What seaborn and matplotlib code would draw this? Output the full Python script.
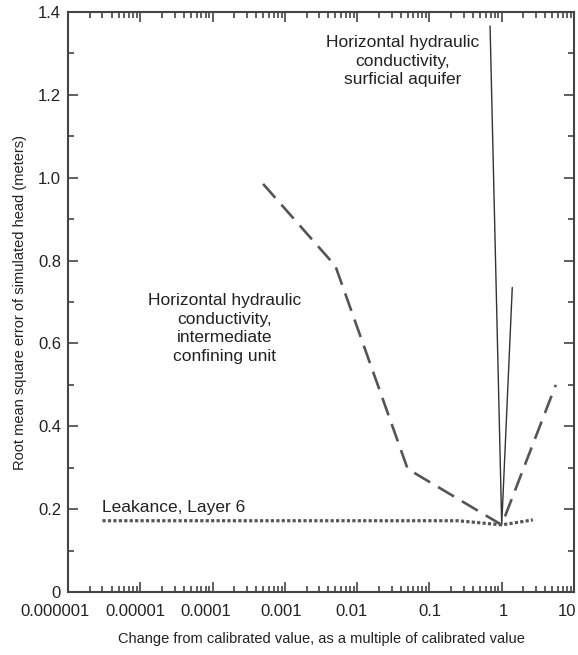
import numpy as np
import seaborn as sns
import pandas as pd
import matplotlib.pyplot as plt
import matplotlib.transforms as mtransforms
from matplotlib.ticker import LogLocator, FixedLocator, MultipleLocator, NullFormatter

# values
surf_x = [0.69, 1.0, 1.4]
surf_y = [1.366, 0.162, 0.735]

conf_x = [0.0005, 0.005, 0.05, 1.0, 5.6]
conf_y = [0.985, 0.787, 0.297, 0.162, 0.50]

leak_x = [0.000003, 0.25, 1.0, 2.7]
leak_y = [0.172, 0.172, 0.162, 0.174]

xticks = [1e-6, 1e-5, 1e-4, 1e-3, 1e-2, 1e-1, 1, 10]
xlabels = ['0.000001', '0.00001', '0.0001', '0.001', '0.01', '0.1', '1', '10']
yticks = [0, 0.2, 0.4, 0.6, 0.8, 1.0, 1.2, 1.4]
ylabels = ['0', '0.2', '0.4', '0.6', '0.8', '1.0', '1.2', '1.4']

sns.set_style('ticks')
plt.rcParams['font.family'] = ['Liberation Sans', 'DejaVu Sans']

fig = plt.figure(figsize=(5.78, 6.55), dpi=100)
ax = fig.add_axes([68/578, 1-592/655, (574-68)/578, (592-12)/655])
ax.set_xscale('log')

gray = '#555555'
sns.lineplot(x=surf_x, y=surf_y, ax=ax, sort=False, color='#333333', lw=1.0)
sns.lineplot(x=conf_x, y=conf_y, ax=ax, sort=False, color=gray, lw=1.9)
ax.lines[-1].set_dashes((7, 3.5))
sns.lineplot(x=leak_x, y=leak_y, ax=ax, sort=False, color=gray, lw=2.3)
ax.lines[-1].set_dashes((1, 0.7))
ax.lines[-1].set_dash_capstyle('butt')

ax.set_xlim(1e-6, 10)
ax.set_ylim(0, 1.4)
ax.xaxis.set_major_locator(FixedLocator(xticks))
ax.set_xticklabels(xlabels)
ax.xaxis.set_minor_locator(LogLocator(base=10, subs=np.arange(2, 10)))
ax.xaxis.set_minor_formatter(NullFormatter())
ax.set_yticks(yticks)
ax.set_yticklabels(ylabels)
ax.yaxis.set_minor_locator(MultipleLocator(0.1))

ax.tick_params(which='both', direction='in', top=True, right=True, color='#444444',
               labelsize=12, labelcolor='#222222', width=1.2)
ax.tick_params(which='major', length=7)
ax.tick_params(which='minor', length=4)
ax.tick_params(axis='x', pad=9)
ax.tick_params(axis='y', pad=5)
for s in ax.spines.values():
    s.set_linewidth(1.5)
    s.set_color('#444444')

# the printed labels sit a little left of their ticks
shifts = [-13, -5, -7, -4, -6, 0, 2, -7]
for lab, dx in zip(ax.get_xticklabels(), shifts):
    lab.set_transform(lab.get_transform() + mtransforms.ScaledTranslation(dx / 100, 0, fig.dpi_scale_trans))

ax.set_xlabel('Change from calibrated value, as a multiple of calibrated value',
              fontsize=10.5, color='#222222', labelpad=9)
ax.set_ylabel('Root mean square error of simulated head (meters)',
              fontsize=10.5, color='#222222', labelpad=8)

txt = dict(fontsize=12.5, color='#222222', ha='center', va='center', linespacing=1.3)
ax.text(0.042, 1.281, 'Horizontal hydraulic\nconductivity,\nsurficial aquifer', **txt)
ax.text(0.000145, 0.636, 'Horizontal hydraulic\nconductivity,\nintermediate\nconfining unit', **txt)
ax.text(0.000003, 0.205, 'Leakance, Layer 6', fontsize=12.5, color='#222222',
        ha='left', va='center')

fig.savefig('out.png', dpi=100)
